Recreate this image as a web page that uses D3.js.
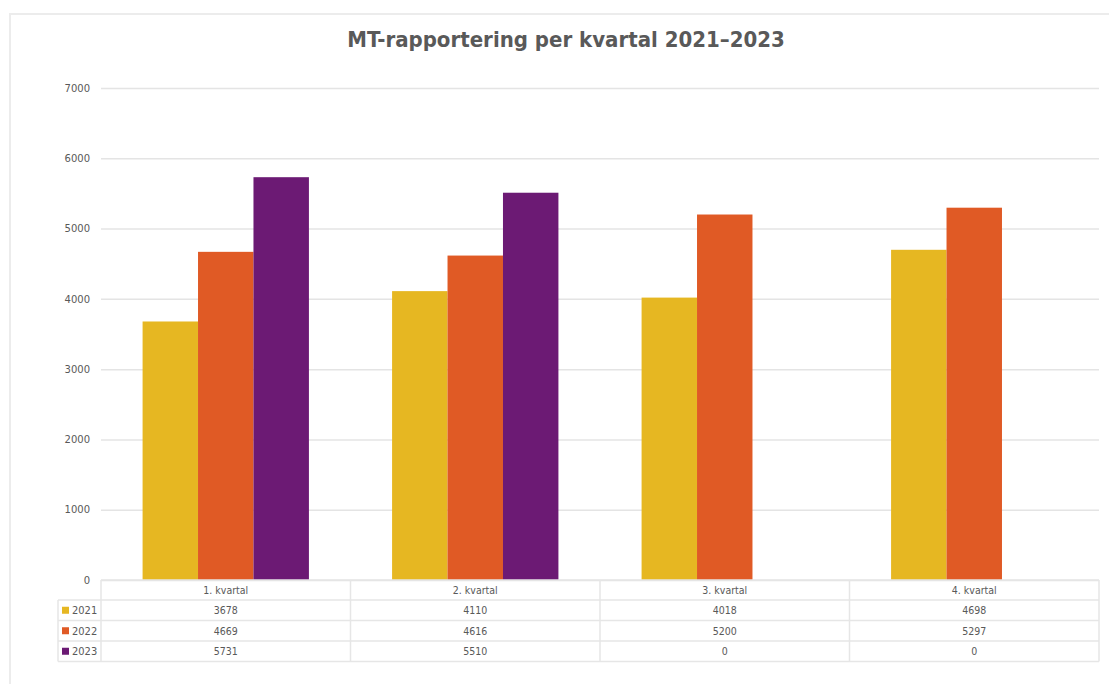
<!DOCTYPE html>
<html>
<head>
<meta charset="utf-8">
<script src="https://cdn.jsdelivr.net/npm/d3@7/dist/d3.min.js"></script>
<style>
  html, body { margin: 0; padding: 0; background: #fff; }
  svg { display: block; }
</style>
</head>
<body>
<svg id="chart" width="1109" height="684"></svg>
<script>
// Quarterly MT reports, one series per year
const quarters = ["1. kvartal", "2. kvartal", "3. kvartal", "4. kvartal"];
const years = ["2021", "2022", "2023"];
const values2021 = [3678, 4110, 4018, 4698];
const values2022 = [4669, 4616, 5200, 5297];
const values2023 = [5731, 5510, 0, 0];
const yTicks = [0, 1000, 2000, 3000, 4000, 5000, 6000, 7000];
const colors = ["#E6B722", "#E05A25", "#6C1A74"];

const series = [values2021, values2022, values2023];

const svg = d3.select("#chart");
const textColor = "#595959";
const gridColor = "#e4e4e4";

// outer frame
svg.append("rect")
  .attr("x", 10).attr("y", 14)
  .attr("width", 1200).attr("height", 1000)
  .attr("fill", "none")
  .attr("stroke", "#ececec")
  .attr("stroke-width", 2);

// title
svg.append("text")
  .attr("x", 566).attr("y", 47)
  .attr("text-anchor", "middle")
  .attr("font-family", "'DejaVu Sans Condensed', 'DejaVu Sans', sans-serif")
  .attr("font-weight", "bold")
  .attr("font-size", 22)
  .attr("fill", textColor)
  .text("MT-rapportering per kvartal 2021–2023");

const plotLeft = 101, plotRight = 1099;
const y = d3.scaleLinear().domain([0, 7000]).range([580, 88]);
const x0 = d3.scaleBand().domain(quarters).range([plotLeft, plotRight]).paddingInner(0).paddingOuter(0);
const x1 = d3.scaleBand().domain(years).range([0, x0.bandwidth()]).paddingOuter(0.75).paddingInner(0);

// gridlines and tick labels
const yAxis = d3.axisLeft(y).tickValues(yTicks).tickSize(-(plotRight - plotLeft)).tickPadding(11).tickFormat(d3.format("d"));
const gAxis = svg.append("g").attr("transform", `translate(${plotLeft},0)`).call(yAxis);
gAxis.select(".domain").remove();
gAxis.selectAll(".tick line").attr("stroke", gridColor).attr("stroke-width", 1.5);
gAxis.selectAll(".tick text")
  .attr("fill", textColor)
  .attr("font-family", "Verdana, 'DejaVu Sans', sans-serif")
  .attr("font-size", 10);

// bars
const groups = svg.append("g").selectAll("g")
  .data(quarters)
  .join("g")
  .attr("transform", d => `translate(${x0(d)},0)`);

groups.selectAll("rect")
  .data((q, qi) => years.map((yr, si) => ({ yr, v: series[si][qi], c: colors[si] })))
  .join("rect")
  .attr("x", d => x1(d.yr))
  .attr("width", x1.bandwidth())
  .attr("y", d => y(d.v))
  .attr("height", d => y(0) - y(d.v))
  .attr("fill", d => d.c);

// data table below the plot
const tableTop = 580, headerH = 20, rowH = 20.5;
const legendLeft = 58;
const tFont = "'DejaVu Sans Condensed', 'DejaVu Sans', sans-serif";
const tbl = svg.append("g");
const lineAttrs = sel => sel.attr("stroke", "#e6e6e6").attr("stroke-width", 1.5);

// horizontal lines
tbl.append("line").attr("x1", plotLeft).attr("x2", plotRight).attr("y1", tableTop).attr("y2", tableTop).call(lineAttrs);
for (let i = 0; i <= years.length; i++) {
  const yy = tableTop + headerH + i * rowH;
  tbl.append("line").attr("x1", legendLeft).attr("x2", plotRight).attr("y1", yy).attr("y2", yy).call(lineAttrs);
}
const tableBottom = tableTop + headerH + years.length * rowH;
// vertical lines
tbl.append("line").attr("x1", legendLeft).attr("x2", legendLeft).attr("y1", tableTop + headerH).attr("y2", tableBottom).call(lineAttrs);
[...quarters.map(q => x0(q)), plotRight].forEach(xx => {
  tbl.append("line").attr("x1", xx).attr("x2", xx).attr("y1", tableTop).attr("y2", tableBottom).call(lineAttrs);
});

// header labels
tbl.selectAll("text.hdr").data(quarters).join("text")
  .attr("class", "hdr")
  .attr("x", d => x0(d) + x0.bandwidth() / 2)
  .attr("y", tableTop + headerH / 2 + 4)
  .attr("text-anchor", "middle")
  .attr("font-family", tFont).attr("font-size", 10.5)
  .attr("fill", textColor)
  .text(d => d);

years.forEach((yr, si) => {
  const rowMid = tableTop + headerH + si * rowH + rowH / 2;
  tbl.append("rect")
    .attr("x", 62).attr("y", rowMid - 3.5)
    .attr("width", 7).attr("height", 7)
    .attr("fill", colors[si]);
  tbl.append("text")
    .attr("x", 72).attr("y", rowMid + 4)
    .attr("font-family", tFont).attr("font-size", 11)
    .attr("fill", textColor)
    .text(yr);
  quarters.forEach((q, qi) => {
    tbl.append("text")
      .attr("x", x0(q) + x0.bandwidth() / 2)
      .attr("y", rowMid + 4)
      .attr("text-anchor", "middle")
      .attr("font-family", tFont).attr("font-size", 10.5)
      .attr("fill", textColor)
      .text(series[si][qi]);
  });
});
</script>
</body>
</html>
